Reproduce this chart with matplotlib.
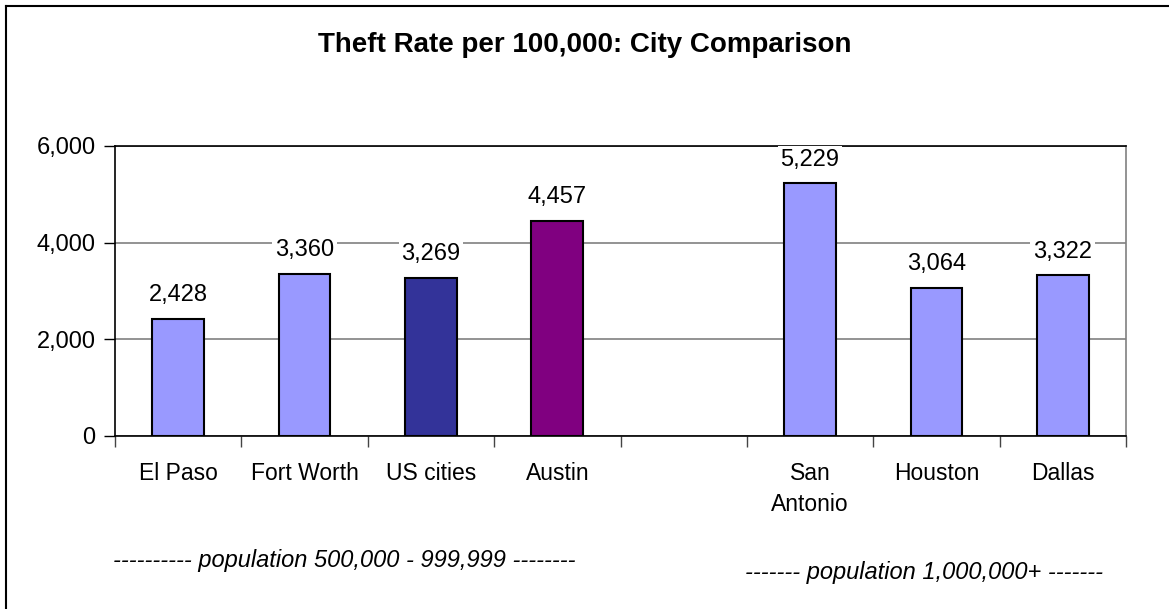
import numpy as np
import matplotlib.pyplot as plt
from matplotlib.lines import Line2D

# --- données ---
villes = ["El Paso", "Fort Worth", "US cities", "Austin", "", "San\nAntonio", "Houston", "Dallas"]
taux = [2428, 3360, 3269, 4457, np.nan, 5229, 3064, 3322]
couleurs = ["#9999FF", "#9999FF", "#333399", "#800080", "#FFFFFF", "#9999FF", "#9999FF", "#9999FF"]
graduations_y = [0, 2000, 4000, 6000]

plt.rcParams['font.family'] = ['Liberation Sans', 'DejaVu Sans']

fig = plt.figure(figsize=(11.69, 6.09), dpi=100)
ax = fig.add_axes([0.0984, 0.2841, 0.8648, 0.4762])

x = np.arange(len(villes))
for i, (v, c) in enumerate(zip(taux, couleurs)):
    if np.isnan(v):
        continue
    ax.bar(x[i], v, width=0.41, color=c, edgecolor="black", linewidth=1.5, zorder=3)
    ax.annotate(f"{int(v):,}", (x[i], v), xytext=(0, 17), textcoords="offset points",
                ha="center", va="center", fontsize=17,
                bbox=dict(facecolor="white", edgecolor="none", pad=2), zorder=4)

ax.set_xlim(-0.5, len(villes) - 0.5)
ax.set_ylim(0, 6000)
ax.set_yticks(graduations_y)
ax.set_yticklabels([f"{v:,}" for v in graduations_y], fontsize=17)
ax.yaxis.grid(True, color="#808080", linewidth=1.2, zorder=0)

ax.set_xticks(x)
ax.set_xticklabels(villes, fontsize=16.5, linespacing=1.4)
ax.tick_params(axis="x", length=0, pad=19)
ax.set_xticks(np.arange(-0.5, len(villes)), minor=True)
ax.tick_params(axis="x", which="minor", length=8, width=1, color="#444444")
ax.tick_params(axis="y", length=8, width=1, pad=6)

ax.spines["top"].set_color("black")
ax.spines["right"].set_color("#808080")
for s in ["left", "bottom", "top", "right"]:
    ax.spines[s].set_linewidth(1.2)

fig.text(0.5, 0.926, "Theft Rate per 100,000: City Comparison", ha="center", va="center",
         fontsize=20, fontweight="bold")
fig.text(344 / 1169, 1 - 560 / 609, "---------- population 500,000 - 999,999 --------",
         ha="center", va="center", fontsize=17, style="italic")
fig.text(924 / 1169, 1 - 572 / 609, "------- population 1,000,000+ -------",
         ha="center", va="center", fontsize=17, style="italic")

# cadre du graphique (seuls les bords gauche et haut sont visibles)
fig.add_artist(Line2D([6 / 1169, 6 / 1169], [0, 1 - 6 / 609], color="black", linewidth=1.5))
fig.add_artist(Line2D([6 / 1169, 1], [1 - 6 / 609, 1 - 6 / 609], color="black", linewidth=1.5))

fig.savefig("out.png", dpi=100)
